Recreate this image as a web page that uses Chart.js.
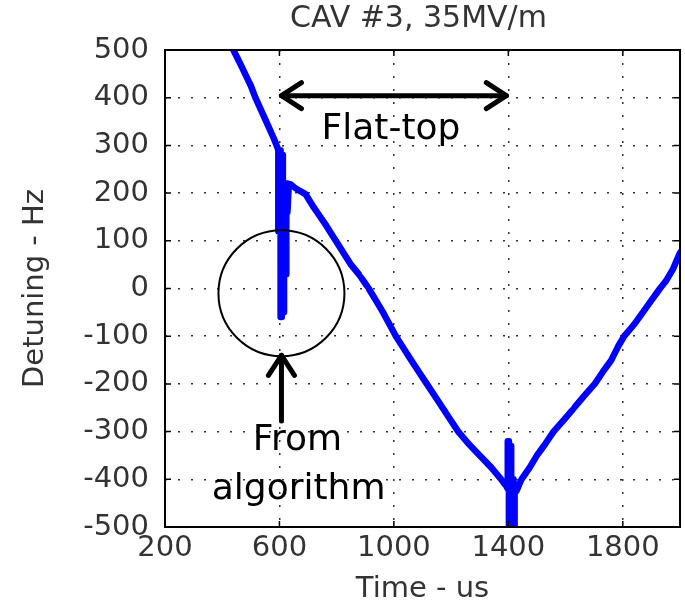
<!DOCTYPE html>
<html>
<head>
<meta charset="utf-8">
<script src="https://cdn.jsdelivr.net/npm/chart.js@4"></script>
<style>
html, body { margin: 0; padding: 0; background: #fff; }
#wrap { width: 685px; height: 609px; }
</style>
</head>
<body>
<div id="wrap"><canvas id="detuningChart" width="685" height="609"></canvas></div>
<script>
// values
const chartTitle = 'CAV #3, 35MV/m';
const xTicks = [200, 600, 1000, 1400, 1800];
const yTicks = [-500, -400, -300, -200, -100, 0, 100, 200, 300, 400, 500];

const timeUs = [
    439, 460, 480, 500, 516, 535, 550, 565, 580, 590, 594,
    596, 596, 600, 600, 604, 604, 608, 608, 612, 612, 616, 616, 620, 620, 624, 624, 628, 628, 632,
    640, 652, 670, 691, 720, 760, 797, 850, 880, 912, 960, 1007, 1060, 1115,
    1170, 1225, 1260, 1300, 1340, 1375, 1393,
    1398, 1398, 1402, 1402, 1406, 1406, 1410, 1410, 1414, 1414, 1418, 1418, 1422, 1422, 1428,
    1446, 1475, 1500, 1530, 1558, 1595, 1630, 1665, 1702, 1730, 1760, 1785,
    1805, 1840, 1870, 1900, 1930, 1950, 1975, 2000
];
const detuningHz = [
    500, 475, 450, 425, 400, 375, 355, 335, 315, 300, 294,
    290, 120, 120, 290, 290, -60, -60, 280, 280, -50, -50, 200, 200, 30, 30, 220, 220, 160, 212,
    218, 212, 205, 198, 170, 135, 100, 50, 28, 0, -48, -100, -150, -200,
    -250, -300, -325, -350, -375, -400, -415,
    -420, -320, -320, -500, -500, -330, -330, -520, -520, -400, -400, -520, -520, -420, -425,
    -400, -375, -350, -325, -300, -275, -250, -225, -200, -175, -150, -120,
    -100, -75, -50, -25, 0, 15, 40, 75
];

const points = timeUs.map((t, i) => ({ x: t, y: detuningHz[i] }));

// 화살표 머리 (열린 V자)
function arrowHead(ctx, x, y, dx, dy) {
    const len = 20, half = 13;
    const nx = -dy, ny = dx;
    ctx.beginPath();
    ctx.moveTo(x - dx * len + nx * half, y - dy * len + ny * half);
    ctx.lineTo(x, y);
    ctx.lineTo(x - dx * len - nx * half, y - dy * len - ny * half);
    ctx.stroke();
}

const annotationPlugin = {
    id: 'annotations',
    afterDraw(chart) {
        const { ctx, chartArea, scales } = chart;
        const x = scales.x, y = scales.y;
        const { left, right, top, bottom } = chartArea;
        ctx.save();

        // box round the plot, with small inward ticks
        ctx.strokeStyle = '#000';
        ctx.lineWidth = 2;
        ctx.strokeRect(left, top, right - left, bottom - top);
        ctx.lineWidth = 1.5;
        ctx.beginPath();
        xTicks.forEach(v => {
            const px = x.getPixelForValue(v);
            ctx.moveTo(px, bottom); ctx.lineTo(px, bottom - 6);
            ctx.moveTo(px, top); ctx.lineTo(px, top + 6);
        });
        yTicks.forEach(v => {
            const py = y.getPixelForValue(v);
            ctx.moveTo(left, py); ctx.lineTo(left + 6, py);
            ctx.moveTo(right, py); ctx.lineTo(right - 6, py);
        });
        ctx.stroke();

        // title
        ctx.fillStyle = '#333';
        ctx.font = '30px "DejaVu Sans"';
        ctx.textAlign = 'center';
        ctx.textBaseline = 'middle';
        ctx.fillText(chartTitle, (left + right) / 2 - 4, 19);

        // flat-top double arrow
        ctx.strokeStyle = '#000';
        ctx.lineWidth = 5;
        ctx.lineCap = 'round';
        ctx.lineJoin = 'round';
        const ax1 = x.getPixelForValue(600), ax2 = x.getPixelForValue(1400);
        const ay = y.getPixelForValue(400) - 2;
        ctx.beginPath();
        ctx.moveTo(ax1 + 2, ay);
        ctx.lineTo(ax2 - 2, ay);
        ctx.stroke();
        arrowHead(ctx, ax1 + 2, ay, -1, 0);
        arrowHead(ctx, ax2 - 2, ay, 1, 0);

        // circle
        ctx.lineWidth = 2;
        ctx.beginPath();
        ctx.arc(x.getPixelForValue(600) + 2, y.getPixelForValue(-10), 63, 0, Math.PI * 2);
        ctx.stroke();

        // up arrow
        ctx.lineWidth = 5;
        const ux = x.getPixelForValue(600) + 2;
        const uTop = y.getPixelForValue(-140), uBot = y.getPixelForValue(-278);
        ctx.beginPath();
        ctx.moveTo(ux, uBot);
        ctx.lineTo(ux, uTop);
        ctx.stroke();
        arrowHead(ctx, ux, uTop, 0, -1);

        // labels
        ctx.fillStyle = '#000';
        ctx.font = '36px "DejaVu Sans"';
        ctx.fillText('Flat-top', x.getPixelForValue(990), y.getPixelForValue(332));
        ctx.fillText('From', x.getPixelForValue(663), y.getPixelForValue(-318));
        ctx.fillText('algorithm', x.getPixelForValue(667), y.getPixelForValue(-422));

        ctx.restore();
    }
};

const tickFont = { family: 'DejaVu Sans', size: 29 };

new Chart(document.getElementById('detuningChart').getContext('2d'), {
    type: 'scatter',
    data: {
        datasets: [{
            data: points,
            showLine: true,
            borderColor: '#0000ff',
            backgroundColor: '#0000ff',
            borderWidth: 6.5,
            borderJoinStyle: 'round',
            borderCapStyle: 'round',
            pointRadius: 0,
            tension: 0.000001
        }]
    },
    options: {
        responsive: false,
        animation: false,
        layout: { padding: { top: 50, right: 5, left: 0, bottom: 0 } },
        plugins: {
            legend: { display: false },
            tooltip: { enabled: false }
        },
        scales: {
            x: {
                type: 'linear',
                min: 200,
                max: 2000,
                afterBuildTicks: axis => { axis.ticks = xTicks.map(v => ({ value: v })); },
                afterFit: axis => { axis.height = 82; },
                grid: { color: '#333', lineWidth: 1.5, drawTicks: false },
                border: { display: false, dash: [2, 11] },
                ticks: { color: '#333', font: tickFont, padding: 4, maxRotation: 0, callback: v => String(v) },
                title: { display: true, text: 'Time - us', color: '#333', font: tickFont, padding: { top: 0, bottom: 2 } }
            },
            y: {
                min: -500,
                max: 500,
                afterBuildTicks: axis => { axis.ticks = yTicks.map(v => ({ value: v })); },
                afterFit: axis => { axis.width = 165; },
                grid: { color: '#333', lineWidth: 1.5, drawTicks: false },
                border: { display: false, dash: [2, 11] },
                ticks: { color: '#333', font: tickFont, padding: 16, callback: v => String(v) },
                title: { display: true, text: 'Detuning - Hz', color: '#333', font: tickFont, padding: { top: 18, bottom: 0 } }
            }
        }
    },
    plugins: [annotationPlugin]
});
</script>
</body>
</html>
